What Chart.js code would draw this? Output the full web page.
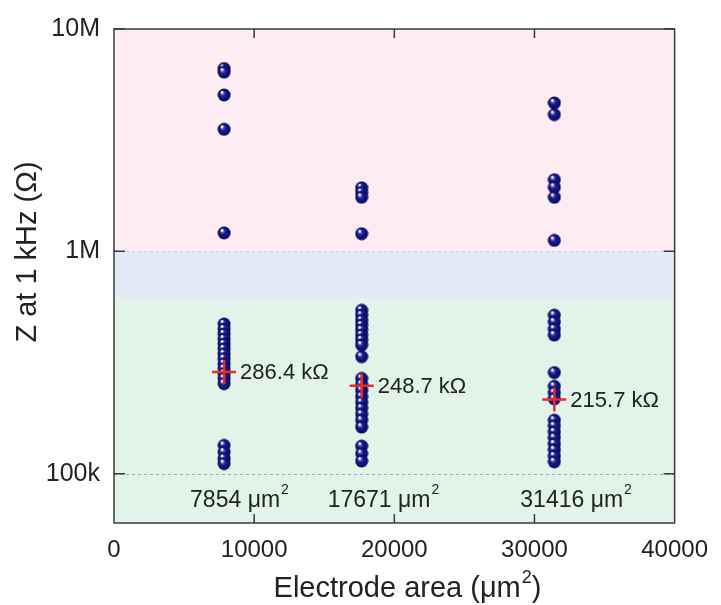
<!DOCTYPE html>
<html>
<head>
<meta charset="utf-8">
<script src="https://cdn.jsdelivr.net/npm/chart.js@4.4.1/dist/chart.umd.min.js"></script>
<style>
  html, body { margin: 0; padding: 0; background: #fff; }
  #wrap { width: 721px; height: 605px; }
</style>
</head>
<body>
<div id="wrap"><canvas id="zChart" width="721" height="605"></canvas></div>
<script>
// electrode areas (um^2) and measured |Z| at 1 kHz (ohm)
const AREAS = [7854, 17671, 31416];
const Z_7854 = [6.64e6, 6.40e6, 5.05e6, 3.54e6, 1.21e6,
  471e3, 447e3, 425e3, 403e3, 383e3, 364e3, 346e3, 329e3, 312e3, 297e3, 282e3, 268e3, 254e3,
  134e3, 125e3, 117e3, 111e3];
const Z_17671 = [1.93e6, 1.84e6, 1.75e6, 1.20e6,
  543e3, 516e3, 489e3, 466e3, 443e3, 420e3, 400e3, 379e3, 336e3,
  268e3, 252e3, 237e3, 222e3, 209e3, 197e3, 185e3, 174e3, 162e3,
  133e3, 123e3, 114e3];
const Z_31416 = [4.65e6, 4.12e6, 2.10e6, 1.94e6, 1.75e6, 1.12e6,
  516e3, 481e3, 447e3, 420e3, 285e3, 247e3, 231e3, 217e3,
  174e3, 164e3, 154e3, 145e3, 136e3, 128e3, 120e3, 113e3];
const MEDIANS = [286.4e3, 248.7e3, 215.7e3];
const MEDIAN_LABELS = ["286.4 k\u03A9", "248.7 k\u03A9", "215.7 k\u03A9"];
const AREA_LABELS = ["7854", "17671", "31416"];

const X_TICKS = [0, 5000, 10000, 15000, 20000, 25000, 30000, 35000, 40000];
const Y_TICKS = [70e3, 80e3, 90e3, 100e3, 200e3, 300e3, 400e3, 500e3, 600e3, 700e3, 800e3, 900e3,
  1e6, 2e6, 3e6, 4e6, 5e6, 6e6, 7e6, 8e6, 9e6, 10e6];
const Y_LABELS = { 100000: "100k", 1000000: "1M", 10000000: "10M" };

// background regions (ohm)
const BAND_LOW = 6e4, BAND_MID = 6.1e5, BAND_HIGH = 1e6, BAND_TOP = 1e7;

const FONT = "'Liberation Sans', Arial, sans-serif";

// shaded sphere marker
function makeBall() {
  const c = document.createElement("canvas");
  c.width = 14; c.height = 14;
  const g = c.getContext("2d");
  const grad = g.createRadialGradient(5, 5, 0.5, 7, 7, 7);
  grad.addColorStop(0, "#8a8ad0");
  grad.addColorStop(0.35, "#1c1c92");
  grad.addColorStop(1, "#06064e");
  g.fillStyle = grad;
  g.beginPath(); g.arc(7, 7, 6.5, 0, Math.PI * 2); g.fill();
  g.fillStyle = "rgba(255,255,255,0.9)";
  g.beginPath(); g.arc(5, 4.5, 1.4, 0, Math.PI * 2); g.fill();
  return c;
}
const ball = makeBall();

const toPoints = (x, arr) => arr.map(v => ({ x: x, y: v }));

const decor = {
  id: "decor",
  beforeDatasetsDraw(chart) {
    const { ctx, chartArea: a, scales: { y } } = chart;
    ctx.save();
    const band = (lo, hi, color) => {
      const yt = y.getPixelForValue(hi), yb = y.getPixelForValue(lo);
      ctx.fillStyle = color;
      ctx.fillRect(a.left, yt, a.right - a.left, yb - yt);
    };
    band(BAND_LOW, BAND_MID, "rgb(226,244,233)");
    band(BAND_MID, BAND_HIGH, "rgb(227,236,246)");
    band(BAND_HIGH, BAND_TOP, "rgb(253,236,241)");

    ctx.setLineDash([3, 3]);
    ctx.lineWidth = 1;
    ctx.strokeStyle = "#c9cfdc";
    let p = Math.round(y.getPixelForValue(1e6)) + 0.5;
    ctx.beginPath(); ctx.moveTo(a.left, p); ctx.lineTo(a.right, p); ctx.stroke();
    ctx.strokeStyle = "#a0a8a4";
    p = Math.round(y.getPixelForValue(1e5)) + 0.5;
    ctx.beginPath(); ctx.moveTo(a.left, p); ctx.lineTo(a.right, p); ctx.stroke();
    ctx.restore();
  },
  afterDraw(chart) {
    const { ctx, chartArea: a, scales: { x, y } } = chart;
    ctx.save();
    // frame
    ctx.strokeStyle = "#3a3a3a";
    ctx.lineWidth = 1.5;
    ctx.strokeRect(a.left, a.top, a.right - a.left, a.bottom - a.top);
    // inward ticks, mirrored
    y.ticks.forEach(t => {
      const py = y.getPixelForValue(t.value);
      const len = Y_LABELS[t.value] ? 11 : 6;
      ctx.beginPath();
      ctx.moveTo(a.left, py); ctx.lineTo(a.left + len, py);
      ctx.moveTo(a.right, py); ctx.lineTo(a.right - len, py);
      ctx.stroke();
    });
    x.ticks.forEach(t => {
      if (t.value === 0 || t.value === 40000) return;
      const px = x.getPixelForValue(t.value);
      const len = t.value % 10000 === 0 ? 9 : 5;
      ctx.beginPath();
      ctx.moveTo(px, a.bottom); ctx.lineTo(px, a.bottom - len);
      ctx.moveTo(px, a.top); ctx.lineTo(px, a.top + len);
      ctx.stroke();
    });

    ctx.fillStyle = "#222";
    // median labels
    ctx.font = "22px " + FONT;
    ctx.textBaseline = "middle";
    ctx.textAlign = "left";
    AREAS.forEach((ar, i) => {
      ctx.fillText(MEDIAN_LABELS[i], x.getPixelForValue(ar) + 16, y.getPixelForValue(MEDIANS[i]) + 1);
    });
    // area labels
    AREAS.forEach((ar, i) => {
      let px = x.getPixelForValue(ar) - 34;
      const py = a.bottom - 22;
      ctx.font = "23px " + FONT;
      const s = AREA_LABELS[i] + " \u03BCm";
      ctx.fillText(s, px, py);
      px += ctx.measureText(s).width + 1;
      ctx.font = "14px " + FONT;
      ctx.fillText("2", px, py - 11);
    });

    // axis titles
    ctx.font = "29px " + FONT;
    ctx.textBaseline = "alphabetic";
    const main = "Electrode area (\u03BCm";
    const w1 = ctx.measureText(main).width;
    ctx.font = "18px " + FONT;
    const w2 = ctx.measureText("2").width;
    ctx.font = "29px " + FONT;
    const w3 = ctx.measureText(")").width;
    let sx = 407 - (w1 + w2 + w3) / 2;
    ctx.fillText(main, sx, 597);
    ctx.font = "18px " + FONT;
    ctx.fillText("2", sx + w1 + 1, 583);
    ctx.font = "29px " + FONT;
    ctx.fillText(")", sx + w1 + w2 + 1, 597);

    ctx.translate(28, 252);
    ctx.rotate(-Math.PI / 2);
    ctx.textAlign = "center";
    ctx.textBaseline = "middle";
    ctx.fillText("Z at 1 kHz (\u03A9)", 0, 0);
    ctx.restore();
  }
};

const ballSet = (x, arr) => ({
  data: toPoints(x, arr),
  pointStyle: ball,
  pointRadius: 7,
  showLine: false,
  order: 2
});

new Chart(document.getElementById("zChart"), {
  type: "scatter",
  data: {
    datasets: [
      ballSet(AREAS[0], Z_7854),
      ballSet(AREAS[1], Z_17671),
      ballSet(AREAS[2], Z_31416),
      {
        // median markers, drawn on top of the balls
        data: AREAS.map((a, i) => ({ x: a, y: MEDIANS[i] })),
        pointStyle: "cross",
        pointRadius: 12,
        borderColor: "#ee2a2a",
        borderWidth: 2.5,
        showLine: false,
        order: 0
      }
    ]
  },
  options: {
    responsive: false,
    animation: false,
    layout: { padding: { top: 24, right: 39, left: 0, bottom: 0 } },
    plugins: { legend: { display: false }, tooltip: { enabled: false } },
    scales: {
      x: {
        type: "linear",
        min: 0,
        max: 40000,
        afterFit(scale) { scale.height = 82; },
        afterBuildTicks(scale) { scale.ticks = X_TICKS.map(v => ({ value: v })); },
        grid: { display: false, drawTicks: false },
        border: { display: false },
        ticks: {
          autoSkip: false,
          maxRotation: 0,
          padding: 13,
          color: "#222",
          font: { family: FONT, size: 24 },
          callback: v => (v % 10000 === 0 ? String(v) : null)
        }
      },
      y: {
        type: "logarithmic",
        min: BAND_LOW,
        max: BAND_TOP,
        afterFit(scale) { scale.width = 114; },
        afterBuildTicks(scale) { scale.ticks = Y_TICKS.map(v => ({ value: v })); },
        grid: { display: false, drawTicks: false },
        border: { display: false },
        ticks: {
          autoSkip: false,
          padding: 14,
          color: "#222",
          font: { family: FONT, size: 25 },
          callback: v => Y_LABELS[v] || null
        }
      }
    }
  },
  plugins: [decor]
});
</script>
</body>
</html>
